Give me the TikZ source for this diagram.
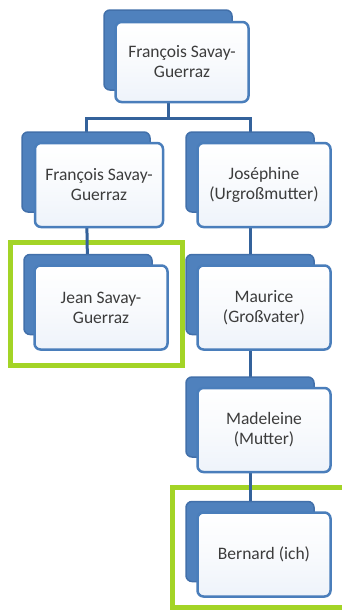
\documentclass[tikz,border=0pt]{standalone}
\usepackage{fontspec}
\setmainfont{Carlito}
\usetikzlibrary{backgrounds}
\definecolor{backblue}{RGB}{79,129,189}
\definecolor{backedge}{RGB}{66,112,170}
\definecolor{frontedge}{RGB}{74,126,187}
\definecolor{frontfill}{RGB}{238,243,250}
\definecolor{linkblue}{RGB}{52,98,155}
\definecolor{hilite}{RGB}{163,212,38}
\definecolor{txt}{RGB}{60,60,60}
\tikzset{
  backbox/.style={draw=backedge, fill=backblue, line width=1.5pt, rounded corners=6pt,
    minimum width=128pt, minimum height=80pt, inner sep=0pt},
  frontbox/.style={draw=frontedge, line width=2.5pt, rounded corners=6pt,
    top color=white, bottom color=frontfill, middle color=frontfill!40,
    minimum width=133pt, minimum height=84pt, inner sep=0pt, align=center,
    font=\fontsize{17.5pt}{20pt}\selectfont, text=txt},
  link/.style={draw=linkblue, line width=3pt},
  mark box/.style={draw=hilite, line width=5pt}
}
\begin{document}
\begin{tikzpicture}[x=1pt,y=-1pt]
\useasboundingbox (0,0) rectangle (341,614);
% people
\node[backbox] (b1) at (168,50) {};
\node[frontbox, minimum height=80pt] (f1) at (182,62) {François Savay-\\Guerraz};
\node[backbox] (b2) at (86,172) {};
\node[frontbox, minimum width=128pt] (f2) at (99,185) {François Savay-\\Guerraz};
\node[backbox] (b3) at (250,172) {};
\node[frontbox] (f3) at (264,185) {Joséphine\\(Urgroßmutter)};
\node[backbox] (b4) at (88,294.5) {};
\node[frontbox] (f4) at (101,307.5) {Jean Savay-\\Guerraz};
\node[backbox] (b5) at (250,294.5) {};
\node[frontbox] (f5) at (264,307.5) {Maurice\\(Großvater)};
\node[backbox] (b6) at (250,417) {};
\node[frontbox] (f6) at (264,430) {Madeleine\\(Mutter)};
\node[backbox] (b7) at (250,541.5) {};
\node[frontbox] (f7) at (264,554.5) {Bernard (ich)};
\coordinate (j) at (168,118);
\begin{scope}[on background layer]
\fill[white] (0,0) rectangle (341,614);
% highlight frames
\draw[mark box] (10,242) rectangle (182,365);
\draw[mark box] (172.5,487.5) rectangle (350,607);
\draw[link] (b1.center) -- (b1.center |- j) -| (b2.center);
\draw[link] (b1.center |- j) -| (b3.center);
\draw[link] (b2.center) -- (b4.center);
\draw[link] (b3.center) -- (b5.center);
\draw[link] (b5.center) -- (b6.center);
\draw[link] (b6.center) -- (b7.center);
\end{scope}
\end{tikzpicture}
\end{document}
